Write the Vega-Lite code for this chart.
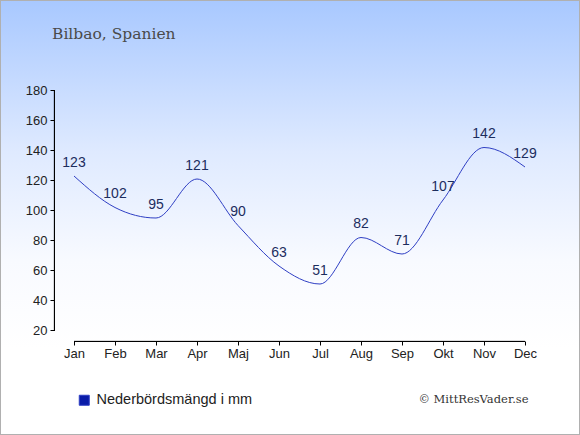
{
  "$schema": "https://vega.github.io/schema/vega-lite/v6.json",
  "description": "Bilbao precipitation per month, mm",
  "width": 580,
  "height": 435,
  "autosize": {"type": "none"},
  "padding": 0,
  "background": "white",
  "title": {
    "text": "Bilbao, Spanien",
    "anchor": "start",
    "frame": "group",
    "orient": "top",
    "offset": 0,
    "baseline": "alphabetic",
    "dx": 52,
    "dy": 54,
    "font": "DejaVu Serif",
    "fontSize": 15.5,
    "fontWeight": "normal",
    "color": "#4a4a4a"
  },
  "data": {
    "values": [
      {"month": 1, "name": "Jan", "value": 123},
      {"month": 2, "name": "Feb", "value": 102},
      {"month": 3, "name": "Mar", "value": 95},
      {"month": 4, "name": "Apr", "value": 121},
      {"month": 5, "name": "Maj", "value": 90},
      {"month": 6, "name": "Jun", "value": 63},
      {"month": 7, "name": "Jul", "value": 51},
      {"month": 8, "name": "Aug", "value": 82},
      {"month": 9, "name": "Sep", "value": 71},
      {"month": 10, "name": "Okt", "value": 107},
      {"month": 11, "name": "Nov", "value": 142},
      {"month": 12, "name": "Dec", "value": 129}
    ]
  },
  "encoding": {
    "x": {
      "field": "month",
      "type": "quantitative",
      "scale": {"domain": [-0.804878, 13.341463], "nice": false, "zero": false},
      "axis": {
        "orient": "bottom",
        "offset": -94,
        "values": [1, 2, 3, 4, 5, 6, 7, 8, 9, 10, 11, 12],
        "labelExpr": "['Jan','Feb','Mar','Apr','Maj','Jun','Jul','Aug','Sep','Okt','Nov','Dec'][datum.value - 1]",
        "domain": false,
        "grid": false,
        "tickSize": 4,
        "tickColor": "black",
        "labelPadding": 2,
        "labelFont": "Liberation Sans",
        "labelFontSize": 13,
        "labelColor": "#222222",
        "labelFlush": false,
        "labelOverlap": false,
        "title": "© MittResVader.se",
        "titleX": 528,
        "titleY": 61,
        "titleAlign": "right",
        "titleBaseline": "alphabetic",
        "titleFont": "DejaVu Serif",
        "titleFontSize": 11.5,
        "titleFontWeight": "normal",
        "titleColor": "#333333"
      }
    },
    "y": {
      "field": "value",
      "type": "quantitative",
      "scale": {"domain": [-49.6667, 240.3333], "nice": false, "zero": false},
      "axis": {
        "orient": "left",
        "offset": -54,
        "values": [20, 40, 60, 80, 100, 120, 140, 160, 180],
        "domain": false,
        "grid": false,
        "tickSize": 4,
        "tickColor": "black",
        "labelPadding": 3,
        "labelFont": "Liberation Sans",
        "labelFontSize": 13,
        "labelColor": "#222222",
        "labelFlush": false,
        "labelOverlap": false,
        "title": null
      }
    }
  },
  "layer": [
    {
      "mark": {"type": "rule", "color": "black", "strokeWidth": 1},
      "encoding": {
        "x": {"datum": 1, "type": "quantitative"},
        "x2": {"datum": 12},
        "y": {"datum": 12.6667, "type": "quantitative"}
      }
    },
    {
      "mark": {"type": "rule", "color": "black", "strokeWidth": 1},
      "encoding": {
        "x": {"datum": 0.52439, "type": "quantitative"},
        "y": {"datum": 20, "type": "quantitative"},
        "y2": {"datum": 180}
      }
    },
    {
      "mark": {"type": "line", "interpolate": "monotone", "strokeWidth": 1},
      "encoding": {
        "color": {
          "datum": "Nederbördsmängd i mm",
          "scale": {"range": ["#2f3fc4"]},
          "legend": {
            "orient": "none",
            "legendX": 77,
            "legendY": 393,
            "title": null,
            "padding": 0,
            "symbolType": "square",
            "symbolSize": 100,
            "symbolFillColor": "#0a1ca8",
            "symbolStrokeColor": "#0a1ca8",
            "symbolStrokeWidth": 1,
            "labelOffset": 5,
            "labelFont": "Liberation Sans",
            "labelFontSize": 14.5,
            "labelColor": "#222222",
            "labelLimit": 300
          }
        }
      }
    },
    {
      "mark": {
        "type": "text",
        "dy": -9,
        "baseline": "alphabetic",
        "align": "center",
        "font": "Liberation Sans",
        "fontSize": 14,
        "color": "#1c2d5e"
      },
      "encoding": {"text": {"field": "value", "type": "quantitative"}}
    }
  ],
  "config": {
    "view": {
      "stroke": "#b0b0b0",
      "strokeWidth": 2,
      "fill": {
        "gradient": "linear",
        "x1": 0, "y1": 0, "x2": 0, "y2": 1,
        "stops": [
          {"offset": 0, "color": "#a8c8ff"},
          {"offset": 0.35, "color": "#dfeaff"},
          {"offset": 0.6, "color": "#f8faff"},
          {"offset": 0.8, "color": "#ffffff"},
          {"offset": 1, "color": "#ffffff"}
        ]
      }
    }
  }
}
